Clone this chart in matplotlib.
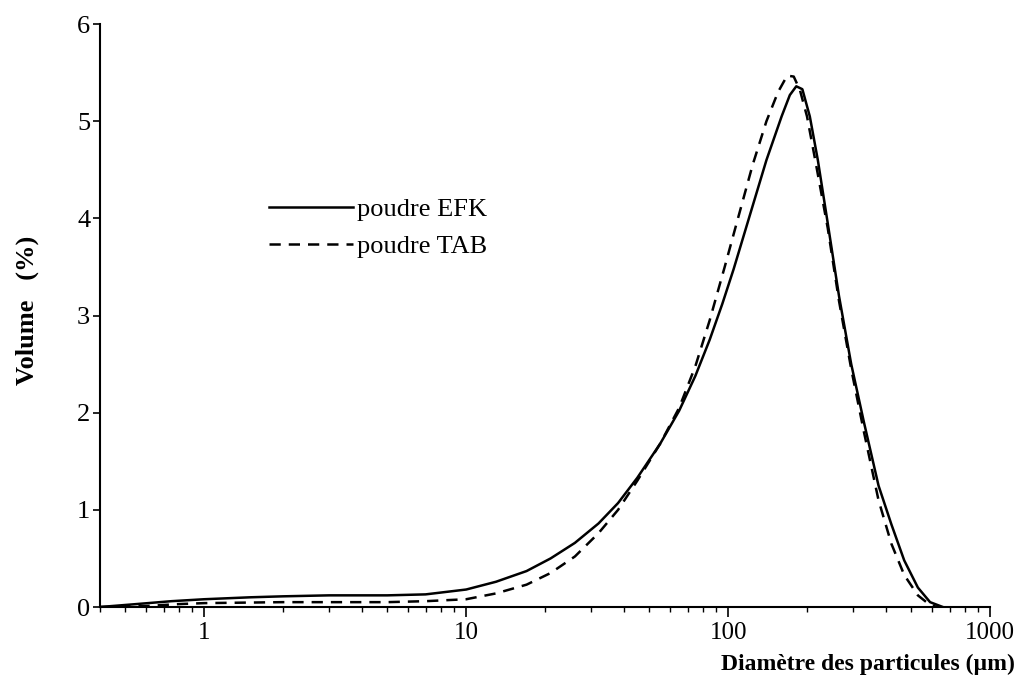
import matplotlib.pyplot as plt
from matplotlib.ticker import FixedLocator, FixedFormatter, LogLocator, NullFormatter

# particle size distributions (laser granulometry)
diam_efk = [0.4, 0.55, 0.75, 1.0, 1.5, 2, 3, 5, 7, 10, 13, 17, 21, 26, 32, 38, 45,
            55, 65, 75, 85, 95, 105, 120, 140, 160, 172, 182, 192, 205, 220, 240,
            265, 295, 330, 375, 420, 470, 530, 590, 660]
vol_efk = [0, 0.03, 0.06, 0.08, 0.10, 0.11, 0.12, 0.12, 0.13, 0.18, 0.26, 0.37, 0.50,
           0.66, 0.86, 1.07, 1.33, 1.68, 2.02, 2.38, 2.75, 3.12, 3.48, 4.0, 4.6, 5.05,
           5.27, 5.36, 5.33, 5.05, 4.6, 3.95, 3.2, 2.5, 1.9, 1.25, 0.85, 0.48, 0.2,
           0.05, 0.0]

diam_tab = [0.4, 0.6, 0.8, 1.0, 2, 5, 7, 10, 13, 17, 21, 26, 32, 38, 45, 55, 65, 75,
            85, 97, 109, 124, 140, 155, 168, 178, 188, 200, 215, 240, 265, 295, 330,
            375, 420, 470, 530, 590, 630]
vol_tab = [0, 0.01, 0.03, 0.04, 0.05, 0.05, 0.06, 0.08, 0.14, 0.23, 0.35, 0.52, 0.76,
           1.0, 1.3, 1.68, 2.05, 2.48, 2.95, 3.5, 4.0, 4.55, 5.0, 5.3, 5.47, 5.46,
           5.32, 5.05, 4.6, 3.9, 3.15, 2.45, 1.8, 1.1, 0.65, 0.33, 0.12, 0.02, 0.0]

x_ticks = [1, 10, 100, 1000]
x_labels = ["1", "10", "100", "1000"]
y_ticks = [0, 1, 2, 3, 4, 5, 6]

plt.rcParams["font.family"] = ["Liberation Serif", "DejaVu Serif"]

fig = plt.figure(figsize=(10.22, 6.89), dpi=100)
ax = fig.add_axes([0.0978, 0.119, 0.871, 0.846])

ax.plot(diam_efk, vol_efk, color="black", lw=1.8, label="poudre EFK")
ax.plot(diam_tab, vol_tab, color="black", lw=1.8, dashes=(4.5, 3.2), label="poudre TAB")

ax.set_xscale("log")
ax.set_xlim(0.4, 1000)
ax.set_ylim(0, 6)

ax.xaxis.set_major_locator(FixedLocator(x_ticks))
ax.xaxis.set_major_formatter(FixedFormatter(x_labels))
ax.xaxis.set_minor_locator(LogLocator(base=10, subs=range(2, 10)))
ax.xaxis.set_minor_formatter(NullFormatter())
ax.yaxis.set_major_locator(FixedLocator(y_ticks))

for side in ["top", "right"]:
    ax.spines[side].set_visible(False)
for side in ["left", "bottom"]:
    ax.spines[side].set_linewidth(1.5)

ax.tick_params(axis="x", which="major", direction="out", length=7, width=1.2,
               labelsize=18, pad=4)
ax.tick_params(axis="x", which="minor", direction="out", length=3.5, width=1.0)
ax.tick_params(axis="y", which="major", direction="out", length=5, width=1.2,
               labelsize=19, pad=2)

ax.legend(loc="upper left", bbox_to_anchor=(0.175, 0.725), frameon=False,
          fontsize=19, handlelength=3.2, handletextpad=0.12, labelspacing=0.5,
          borderpad=0)

fig.text(0.993, 0.035, "Diamètre des particules (µm)", ha="right", va="center",
         fontsize=17, fontweight="bold")
fig.text(0.027, 0.55, "Volume   (%)", ha="center", va="center", rotation=90,
         fontsize=19, fontweight="bold")

fig.savefig("out.png", dpi=100)
